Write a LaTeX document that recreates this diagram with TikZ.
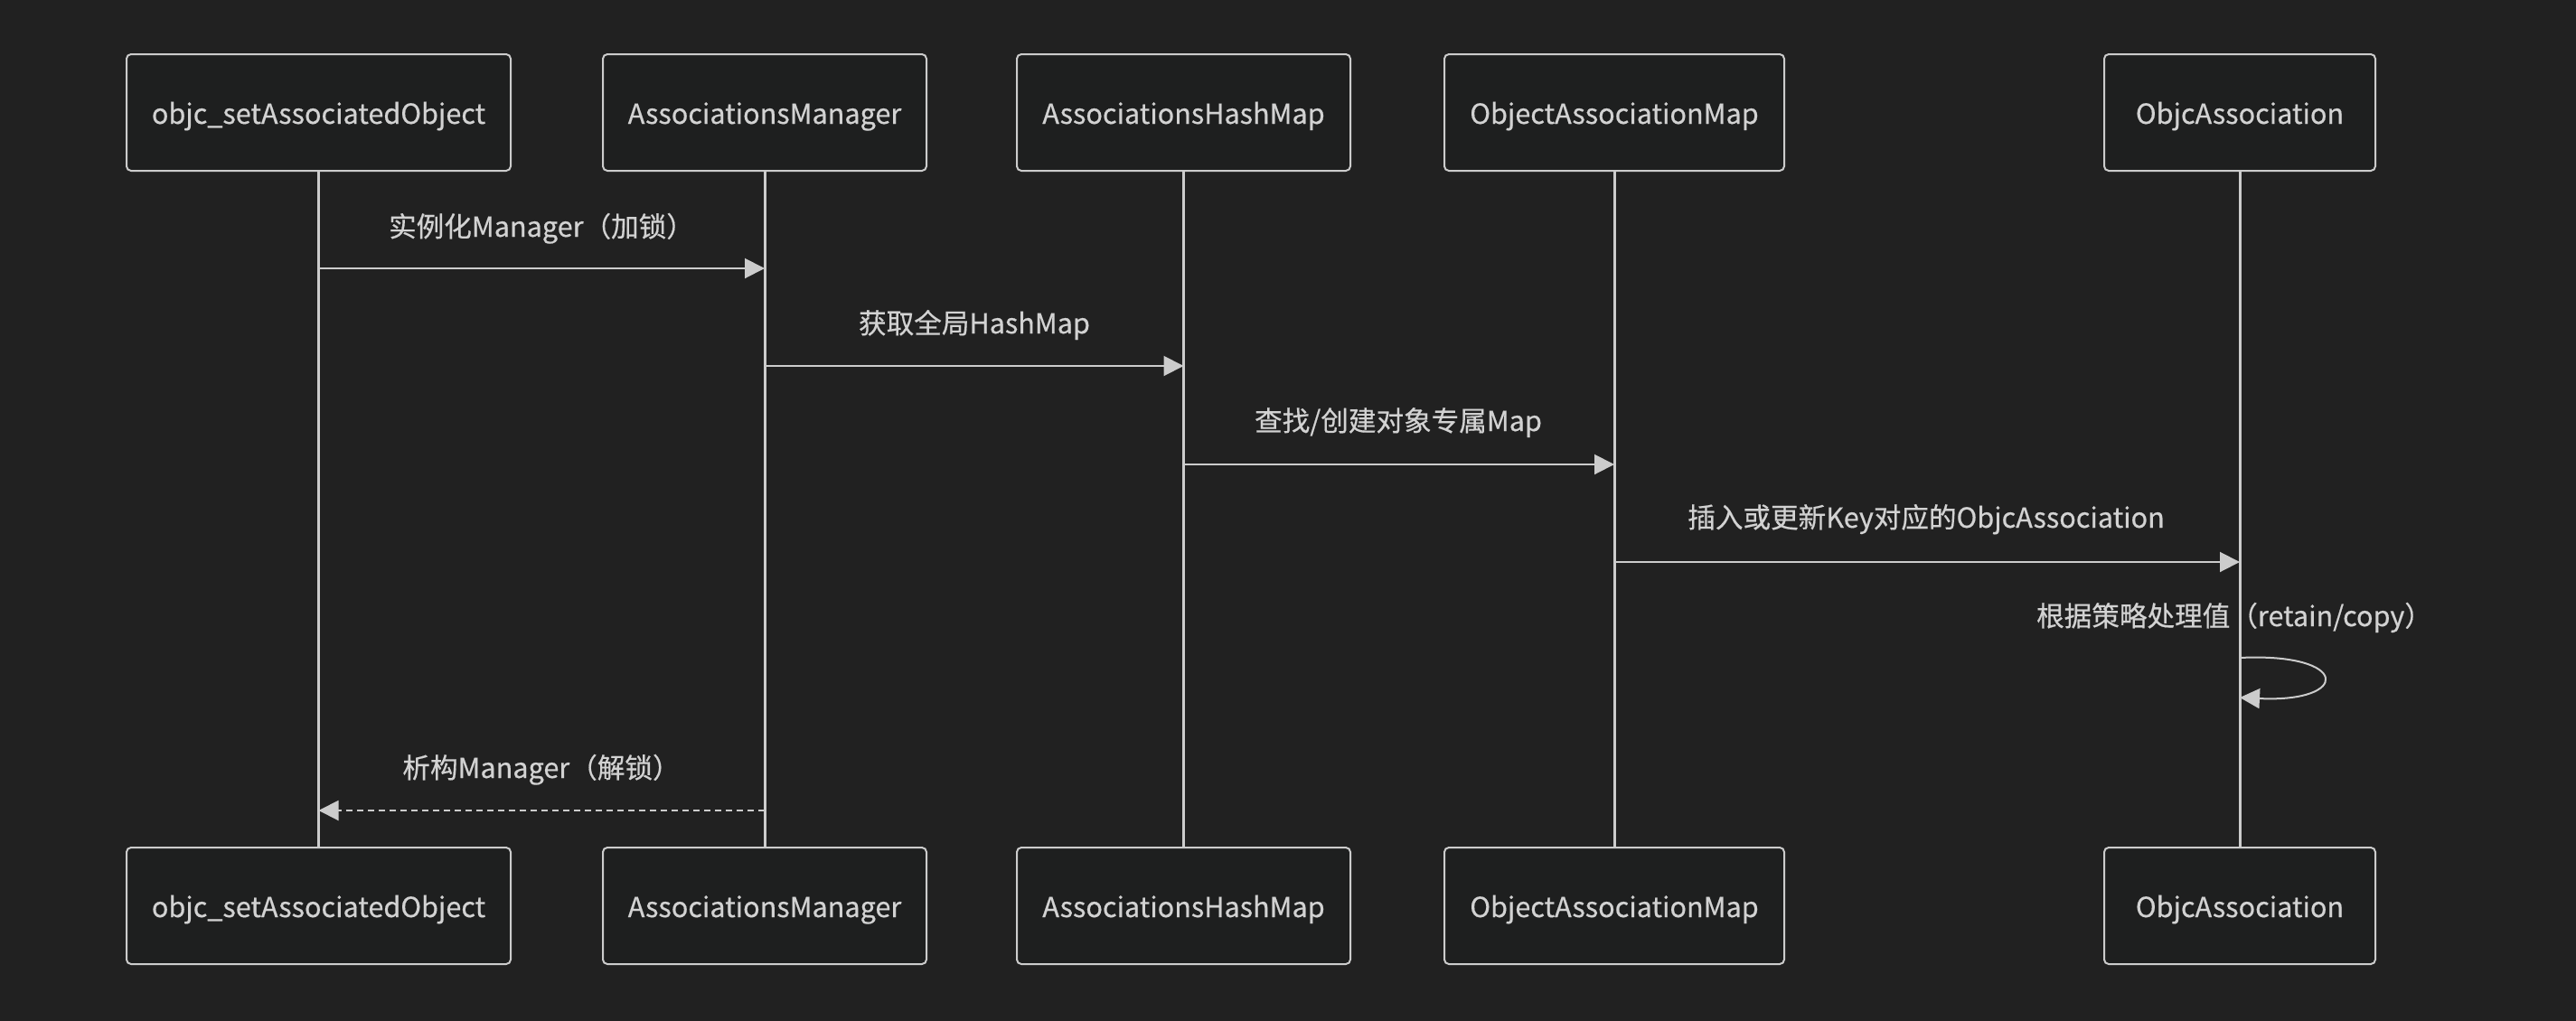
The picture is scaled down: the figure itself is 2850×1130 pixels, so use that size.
\documentclass[tikz,border=0pt]{standalone}
\usepackage{fontspec}
\setmainfont{Noto Sans CJK SC}[FakeBold=0.5]
\usetikzlibrary{arrows.meta}
\definecolor{bg}{HTML}{212121}
\definecolor{boxfill}{HTML}{1E1F1F}
\definecolor{ln}{HTML}{CCCCCC}
\definecolor{tx}{HTML}{D2D2D2}
\begin{document}
\begin{tikzpicture}[x=0.5pt,y=-0.5pt,
  actor/.style={draw=ln, fill=boxfill, rounded corners=2.5pt, line width=1pt, text=tx,
    minimum height=64.5pt, inner sep=0pt, text height=12.5pt, text depth=0pt,
    font=\fontsize{15.3}{18}\selectfont},
  life/.style={draw=ln, line width=1.5pt},
  msg/.style={draw=ln, line width=1pt, -{Triangle[length=11pt,width=11pt]}},
  dmsg/.style={msg, dash pattern=on 3.5pt off 2.5pt},
  lbl/.style={text=tx, inner sep=0pt, anchor=base, font=\fontsize{15.3}{18}\selectfont}]
\fill[bg] (0,0) rectangle (2850,1130);
\useasboundingbox (0,0) rectangle (2850,1130);
% top actors
\node[actor, minimum width=212.5pt] (t1) at (352.5,124.5) {objc\_setAssociatedObject};
\node[actor, minimum width=179pt] (t2) at (846,124.5) {AssociationsManager};
\node[actor, minimum width=184.5pt] (t3) at (1309.5,124.5) {AssociationsHashMap};
\node[actor, minimum width=188pt] (t4) at (1786,124.5) {ObjectAssociationMap};
\node[actor, minimum width=150pt] (t5) at (2478,124.5) {ObjcAssociation};
% bottom actors
\node[actor, minimum width=212.5pt] (b1) at (352.5,1002.5) {objc\_setAssociatedObject};
\node[actor, minimum width=179pt] (b2) at (846,1002.5) {AssociationsManager};
\node[actor, minimum width=184.5pt] (b3) at (1309.5,1002.5) {AssociationsHashMap};
\node[actor, minimum width=188pt] (b4) at (1786,1002.5) {ObjectAssociationMap};
\node[actor, minimum width=150pt] (b5) at (2478,1002.5) {ObjcAssociation};
% lifelines
\foreach \i in {1,...,5} \draw[life] (t\i.south) -- (b\i.north);
% message anchor points
\coordinate (m1a) at (t1.south |- 0,297);
\coordinate (m1b) at (t2.south |- 0,297);
\coordinate (m2a) at (t2.south |- 0,405);
\coordinate (m2b) at (t3.south |- 0,405);
\coordinate (m3a) at (t3.south |- 0,514);
\coordinate (m3b) at (t4.south |- 0,514);
\coordinate (m4a) at (t4.south |- 0,622);
\coordinate (m4b) at (t5.south |- 0,622);
\coordinate (s1) at (t5.south |- 0,728);
\coordinate (s2) at (t5.south |- 0,772);
\coordinate (d1a) at (t2.south |- 0,897);
\coordinate (d1b) at (t1.south |- 0,897);
% messages
\draw[msg] (m1a) -- (m1b);
\node[lbl] (l1) at (599,262) {实例化Manager（加锁）};
\draw[msg] (m2a) -- (m2b);
\node[lbl] (l2) at (1078,369) {获取全局HashMap};
\draw[msg] (m3a) -- (m3b);
\node[lbl] (l3) at (1547,477) {查找/创建对象专属Map};
\draw[msg] (m4a) -- (m4b);
\node[lbl] (l4) at (2131,584) {插入或更新Key对应的ObjcAssociation};
\draw[msg] (s1) .. controls (2601,722) and (2601,778) .. (s2);
\node[lbl] (l5) at (2472,693) {根据策略处理值（retain/copy）};
\draw[dmsg] (d1a) -- (d1b);
\node[lbl] (l6) at (599,861) {析构Manager（解锁）};
\end{tikzpicture}
\end{document}
